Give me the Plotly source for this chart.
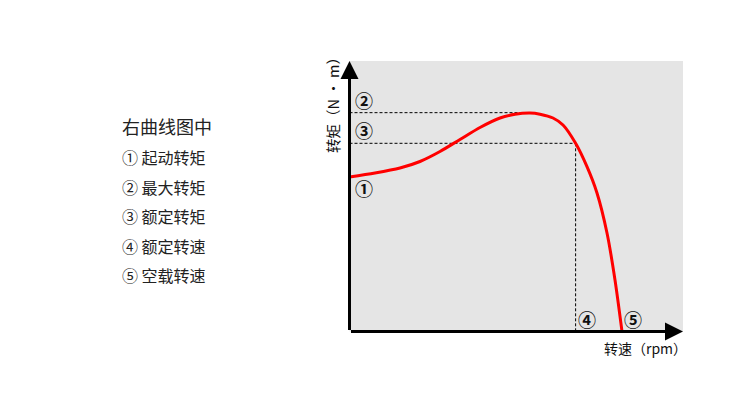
import plotly.graph_objects as go

# ---- data (speed and torque, in % of the axis span) ----
speed = [0, 7.65, 15.14, 21.14, 27.14, 33.13, 39.13, 45.13, 49.63, 54.12, 57.12, 61.02, 64.02, 67.8, 71.21, 74.21, 77.21, 79.61, 81.71]
torque = [57.12, 58.6, 60.44, 62.85, 66.54, 70.98, 75.42, 78.93, 80.3, 80.75, 80.33, 78.93, 76.34, 69.57, 60.92, 51.2, 36.41, 19.04, 0]

start_torque = 57.12
max_torque = 80.9
max_torque_speed = 51.7
rated_torque = 69.57
rated_speed = 67.8
noload_speed = 81.71

point_labels = ["①", "②", "③", "④", "⑤"]
legend_title = "右曲线图中"
legend_items = ["① 起动转矩", "② 最大转矩", "③ 额定转矩", "④ 额定转速", "⑤ 空载转速"]
x_title = "转速（rpm）"
y_title = "转矩（N · m）"

W, H = 750, 400
OFF = 8  # page body margin
x0, x1 = 349.5 - OFF, 683 - OFF
y_top, y_bot = 61 - OFF, 331.5 - OFF


def px(x):
    return (x - OFF) / W


def py(y):
    return 1 - (y - OFF) / H


fig = go.Figure()

dash_style = dict(color="black", width=1, dash="3px,2px")
fig.add_trace(go.Scatter(x=[0, max_torque_speed], y=[max_torque, max_torque], mode="lines",
                         line=dash_style, hoverinfo="skip", showlegend=False))
fig.add_trace(go.Scatter(x=[0, rated_speed], y=[rated_torque, rated_torque], mode="lines",
                         line=dash_style, hoverinfo="skip", showlegend=False))
fig.add_trace(go.Scatter(x=[rated_speed, rated_speed], y=[rated_torque, 0], mode="lines",
                         line=dash_style, hoverinfo="skip", showlegend=False))

fig.add_trace(go.Scatter(x=speed, y=torque, mode="lines",
                         line=dict(color="#ff0000", width=3, shape="spline", smoothing=0.8),
                         hoverinfo="skip", showlegend=False))

font_cjk = "Noto Sans CJK SC, Noto Sans, sans-serif"
ann = []
lab_font = dict(family=font_cjk, size=18, color="#111")


def lab(t):
    return "<b>" + t + "</b>"


ann.append(dict(x=0, y=start_torque, text=lab(point_labels[0]), showarrow=False, xanchor="left", yanchor="top",
                xshift=3, yshift=4, font=lab_font))
ann.append(dict(x=0, y=max_torque, text=lab(point_labels[1]), showarrow=False, xanchor="left", yanchor="bottom",
                xshift=3, yshift=-2, font=lab_font))
ann.append(dict(x=0, y=rated_torque, text=lab(point_labels[2]), showarrow=False, xanchor="left", yanchor="bottom",
                xshift=3, yshift=-2, font=lab_font))
ann.append(dict(x=rated_speed, y=0, text=lab(point_labels[3]), showarrow=False, xanchor="left", yanchor="bottom",
                xshift=0, yshift=-2, font=lab_font))
ann.append(dict(x=noload_speed, y=0, text=lab(point_labels[4]), showarrow=False, xanchor="left", yanchor="bottom",
                xshift=0, yshift=-2, font=lab_font))

# axis arrows
ann.append(dict(x=0, y=100, ax=0, ay=0, xref="x", yref="y", axref="x", ayref="y", text="",
                showarrow=True, arrowhead=2, arrowsize=1.2, arrowwidth=3, arrowcolor="black"))
ann.append(dict(x=100, y=0, ax=0, ay=0, xref="x", yref="y", axref="x", ayref="y", text="",
                showarrow=True, arrowhead=2, arrowsize=1.2, arrowwidth=3, arrowcolor="black"))

# axis titles
ann.append(dict(x=px(332), y=py(102), xref="paper", yref="paper", text=y_title, textangle=-90,
                showarrow=False, xanchor="center", yanchor="middle",
                font=dict(family=font_cjk, size=14.5, color="#111")))
ann.append(dict(x=px(645), y=py(348), xref="paper", yref="paper", text=x_title,
                showarrow=False, xanchor="center", yanchor="middle",
                font=dict(family=font_cjk, size=14, color="#111")))

# left text
ann.append(dict(x=px(120), y=py(126), xref="paper", yref="paper", text=legend_title,
                showarrow=False, xanchor="left", yanchor="middle",
                font=dict(family=font_cjk, size=18, color="#222")))
for i, t in enumerate(legend_items):
    ann.append(dict(x=px(120), y=py(157 + i * 29.5), xref="paper", yref="paper", text=t,
                    showarrow=False, xanchor="left", yanchor="middle",
                    font=dict(family=font_cjk, size=16, color="#222")))

fig.update_layout(
    width=W, height=H,
    margin=dict(l=0, r=0, t=0, b=0),
    paper_bgcolor="white",
    plot_bgcolor="#e5e5e5",
    annotations=ann,
    xaxis=dict(domain=[x0 / W, x1 / W], range=[0, 100], showgrid=False, zeroline=False,
               showticklabels=False, ticks="", fixedrange=True),
    yaxis=dict(domain=[1 - y_bot / H, 1 - y_top / H], range=[0, 100], showgrid=False, zeroline=False,
               showticklabels=False, ticks="", fixedrange=True),
)

fig.write_html("out.html")
